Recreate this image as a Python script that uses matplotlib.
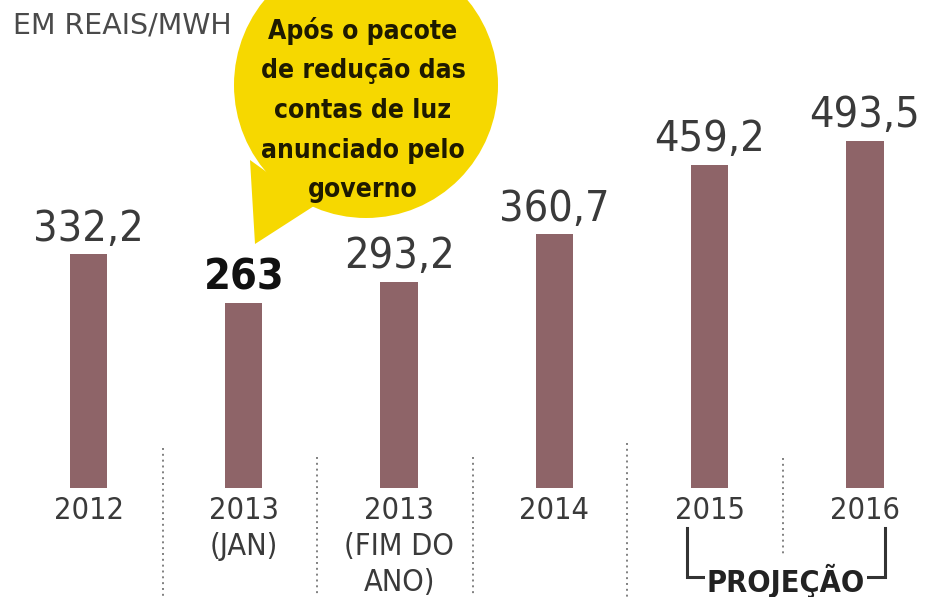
import matplotlib
matplotlib.use("Agg")
import matplotlib.pyplot as plt
from matplotlib import font_manager as fm
from matplotlib.patches import Ellipse, Polygon
from matplotlib.transforms import blended_transform_factory

# ---- data ----
categories = ["2012", "2013\n(JAN)", "2013\n(FIM DO\nANO)", "2014", "2015", "2016"]
values = [332.2, 263, 293.2, 360.7, 459.2, 493.5]
value_labels = ["332,2", "263", "293,2", "360,7", "459,2", "493,5"]
highlight = [False, True, False, False, False, False]
title = "EM REAIS/MWH"
bubble_text = "Após o pacote\nde redução das\ncontas de luz\nanunciado pelo\ngoverno"
projection_label = "PROJEÇÃO"

# ---- fonts ----
names = {f.name for f in fm.fontManager.ttflist}
stretches = {(f.name, f.stretch) for f in fm.fontManager.ttflist}
if "Liberation Sans Narrow" in names:
    NARROW = dict(family="Liberation Sans Narrow")
elif any(n == "DejaVu Sans" and s == "condensed" for n, s in stretches):
    NARROW = dict(family="DejaVu Sans", fontstretch="condensed")
else:
    NARROW = dict(family="DejaVu Sans")

W, H = 937, 597
fig = plt.figure(figsize=(W / 100, H / 100), dpi=100)
fig.patch.set_facecolor("white")

# main axes: full figure, y=0 at pixel row 488, 0.703 px per unit
ax = fig.add_axes([0, 0, 1, 1])
pxu = 0.703
base_px = 488
ax.set_ylim(-(H - base_px) / pxu, base_px / pxu)
x0px, step = 88.5, 155.3
ax.set_xlim(-x0px / step, (W - x0px) / step)
ax.axis("off")

# overlay in pixel coordinates (y downward)
ov = fig.add_axes([0, 0, 1, 1], facecolor="none")
ov.set_xlim(0, W)
ov.set_ylim(H, 0)
ov.axis("off")

bar_w = 0.24
xs = list(range(len(values)))
ax.bar(xs, values, width=bar_w, color="#8E6468", zorder=2)

for i, (v, lab, hl) in enumerate(zip(values, value_labels, highlight)):
    ax.annotate(lab, (i, v), xytext=(0, 10), textcoords="offset points",
                ha="center", va="baseline",
                fontsize=31, color="#111111" if hl else "#3a3a3a",
                fontweight="bold" if hl else "normal", **NARROW)

blend = blended_transform_factory(ax.transData, ov.transData)
for i, lab in enumerate(categories):
    ax.text(i, 496, lab, transform=blend, ha="center", va="top",
            fontsize=22, linespacing=1.3, color="#3a3a3a", **NARROW)

# title
ov.text(13, 25, title, ha="left", va="center", fontsize=20.5, color="#4a4a4a",
        family="DejaVu Sans")

# dotted separators
seps = [(163, 448, 597), (317, 457, 597), (473, 457, 597), (627, 443, 597), (783, 458, 557)]
for sx, y0, y1 in seps:
    ov.plot([sx, sx], [y0, y1], color="#808080", lw=1.4, ls=(0, (1, 2)))

# projection bracket
ov.plot([687, 687, 885, 885], [528, 577, 577, 528], color="#333333", lw=2.2,
        solid_joinstyle="miter")
ov.text(786, 592, projection_label, ha="center", va="baseline", fontsize=22,
        fontweight="bold", color="#222222",
        bbox=dict(facecolor="white", edgecolor="none", pad=1), **NARROW)

# speech bubble
yellow = "#F6D800"
ov.add_patch(Ellipse((366, 85), 264, 266, facecolor=yellow, edgecolor="none"))
ov.add_patch(Polygon([(250, 160), (255, 244), (314, 206)], closed=True,
                     facecolor=yellow, edgecolor="none"))
ov.text(363, 110, bubble_text, ha="center", va="center", fontsize=19,
        fontweight="bold", linespacing=1.68, color="#1e1a00", **NARROW)

fig.savefig("out.png", dpi=100, facecolor="white")
